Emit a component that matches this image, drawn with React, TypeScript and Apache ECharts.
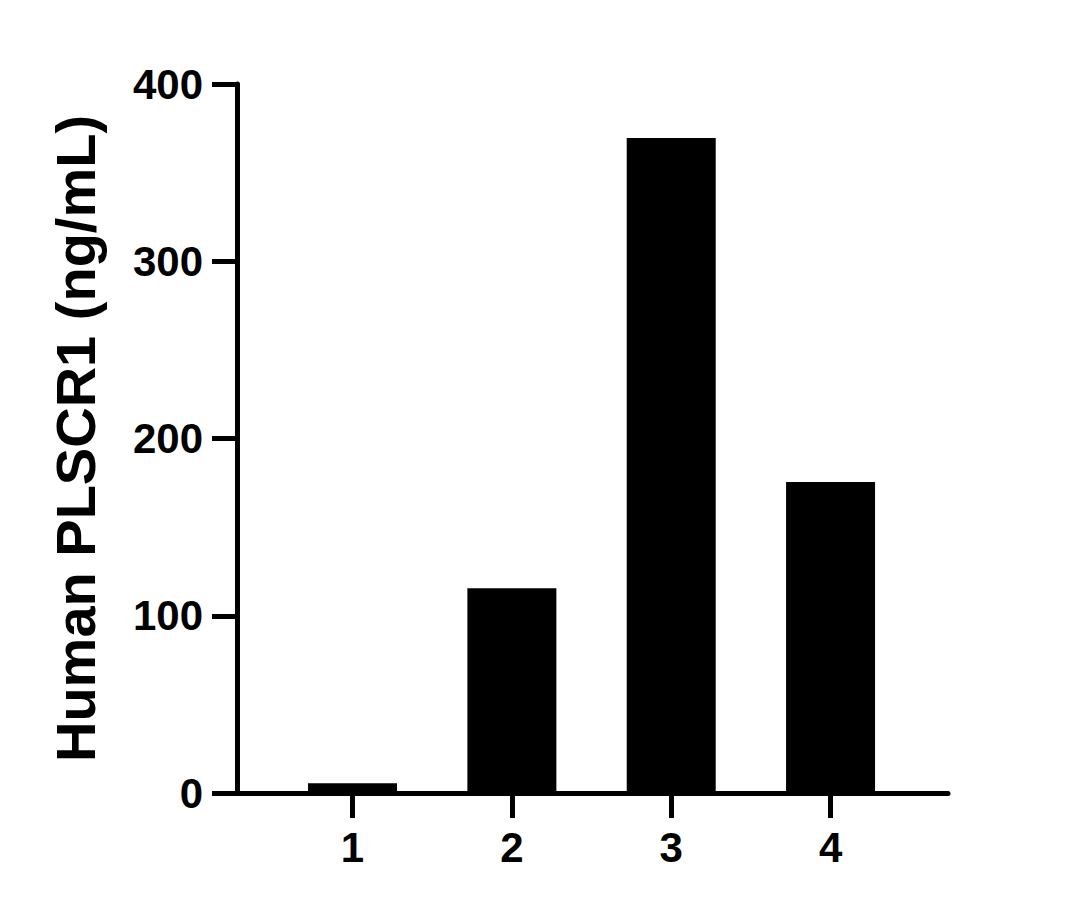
import { useEffect, useRef } from 'react'
import * as echarts from 'echarts'

const sampleIds = [1, 2, 3, 4]
const concentrations = [5.5, 115.5, 369.5, 175.5]
const yTicks = [0, 100, 200, 300, 400]
const yAxisTitle = 'Human PLSCR1 (ng/mL)'

const FONT = '"Liberation Sans", Arial, sans-serif'

export default function App() {
  const chartRef = useRef<HTMLDivElement>(null)

  useEffect(() => {
    if (!chartRef.current) return
    document.body.style.margin = '0'

    const chart = echarts.init(chartRef.current, null, { renderer: 'svg' })

    const option = {
      animation: false,
      backgroundColor: '#ffffff',
      grid: {
        left: 237,
        top: 84,
        width: 711,
        height: 709
      },
      xAxis: {
        type: 'value',
        min: 0.275,
        max: 4.737,
        splitLine: { show: false },
        axisLine: {
          show: true,
          lineStyle: { color: '#000', width: 5 }
        },
        axisTick: {
          show: true,
          length: 25,
          customValues: sampleIds,
          lineStyle: { color: '#000', width: 5 }
        },
        axisLabel: {
          customValues: sampleIds,
          margin: 33,
          color: '#000',
          fontSize: 42,
          fontWeight: 'bold',
          fontFamily: FONT
        }
      },
      yAxis: {
        type: 'value',
        min: yTicks[0],
        max: yTicks[yTicks.length - 1],
        interval: 100,
        name: yAxisTitle,
        nameLocation: 'middle',
        nameGap: 134,
        nameTextStyle: {
          color: '#000',
          fontSize: 56,
          fontWeight: 'bold',
          fontFamily: FONT
        },
        splitLine: { show: false },
        axisLine: {
          show: true,
          lineStyle: { color: '#000', width: 5 }
        },
        axisTick: {
          show: true,
          length: 25,
          lineStyle: { color: '#000', width: 5 }
        },
        axisLabel: {
          margin: 34,
          color: '#000',
          fontSize: 42,
          fontWeight: 'bold',
          fontFamily: FONT
        }
      },
      series: [
        {
          type: 'bar',
          barWidth: 89,
          itemStyle: { color: '#000' },
          data: sampleIds.map((id, i) => [id, concentrations[i]])
        }
      ]
    }

    chart.setOption(option)

    return () => {
      chart.dispose()
    }
  }, [])

  return <div ref={chartRef} style={{ width: '1084px', height: '909px' }} />
}
